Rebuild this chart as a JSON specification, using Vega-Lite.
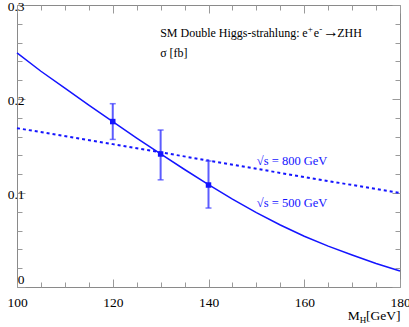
{
  "$schema": "https://vega.github.io/schema/vega-lite/v6.json",
  "width": 383,
  "height": 282,
  "autosize": {"type": "none"},
  "padding": {"left": 17, "top": 5, "right": 9, "bottom": 40},
  "background": "white",
  "config": {
    "font": "Liberation Serif",
    "view": {"stroke": "#8a8a8a", "strokeWidth": 1},
    "axis": {"grid": false, "domain": false, "tickColor": "#9a9a9a", "tickWidth": 1, "labelFont": "Liberation Serif", "labelFontSize": 13.5, "labelColor": "black", "title": null}
  },
  "datasets": {
    "s500": [
      {"m": 100, "sigma": 0.249}, {"m": 105, "sigma": 0.2295}, {"m": 110, "sigma": 0.2115}, {"m": 115, "sigma": 0.1935},
      {"m": 120, "sigma": 0.176}, {"m": 125, "sigma": 0.1585}, {"m": 130, "sigma": 0.1415}, {"m": 135, "sigma": 0.125},
      {"m": 140, "sigma": 0.1088}, {"m": 145, "sigma": 0.0935}, {"m": 150, "sigma": 0.0792}, {"m": 155, "sigma": 0.066},
      {"m": 160, "sigma": 0.054}, {"m": 165, "sigma": 0.0435}, {"m": 170, "sigma": 0.034}, {"m": 175, "sigma": 0.025},
      {"m": 180, "sigma": 0.017}
    ],
    "s800": [
      {"m": 100, "sigma": 0.169}, {"m": 120, "sigma": 0.152}, {"m": 140, "sigma": 0.1345}, {"m": 160, "sigma": 0.117}, {"m": 180, "sigma": 0.1}
    ],
    "pts": [
      {"m": 120, "sigma": 0.176, "lo": 0.157, "hi": 0.195},
      {"m": 130, "sigma": 0.1415, "lo": 0.114, "hi": 0.167},
      {"m": 140, "sigma": 0.1085, "lo": 0.084, "hi": 0.134}
    ],
    "title": [
      {"m": 129.9, "v": 0.2655, "t": "SM Double Higgs-strahlung:"},
      {"m": 159.6, "v": 0.2655, "t": "e"},
      {"m": 162.0, "v": 0.2655, "t": "e"},
      {"m": 166.9, "v": 0.2655, "t": "ZHH"},
      {"m": 129.9, "v": 0.2447, "t": "σ [fb]"}
    ],
    "arrow": [
      {"m": 163.9, "v": 0.2655, "t": "→"}
    ],
    "sup": [
      {"m": 160.75, "v": 0.2713, "t": "+"},
      {"m": 163.15, "v": 0.2713, "t": "-"}
    ],
    "xtitle": [
      {"m": 169.1, "v": -0.0351, "t": "M"},
      {"m": 172.9, "v": -0.0351, "t": "[GeV]"}
    ],
    "xsub": [{"m": 171.6, "v": -0.0383, "t": "H"}],
    "lbl": [
      {"m": 150.1, "v": 0.1298, "t": "√s = 800 GeV"},
      {"m": 150.1, "v": 0.0851, "t": "√s = 500 GeV"}
    ]
  },
  "layer": [
    {
      "data": {"name": "s500"},
      "mark": {"type": "line", "color": "#1414ff", "strokeWidth": 1.5},
      "encoding": {
        "x": {"field": "m", "type": "quantitative", "scale": {"domain": [100, 180], "nice": false},
          "axis": {"orient": "bottom", "values": [100,105,110,115,120,125,130,135,140,145,150,155,160,165,170,175,180],
            "labelExpr": "datum.value % 20 === 0 ? datum.label : ''",
            "tickSize": {"condition": {"test": "datum.value % 20 === 0", "value": -8}, "value": -5},
            "labelPadding": 16, "labelFlush": false, "labelOverlap": false}},
        "y": {"field": "sigma", "type": "quantitative", "scale": {"domain": [0, 0.3], "nice": false, "zero": false},
          "axis": {"orient": "left", "values": [0,0.02,0.04,0.06,0.08,0.1,0.12,0.14,0.16,0.18,0.2,0.22,0.24,0.26,0.28,0.3],
            "labelExpr": "abs(datum.value*10 - round(datum.value*10)) < 0.000001 ? toString(round(datum.value*10)/10) : ''",
            "tickSize": {"condition": {"test": "abs(datum.value*10 - round(datum.value*10)) < 0.000001", "value": -8}, "value": -5},
            "labelOffset": {"condition": {"test": "datum.value === 0", "value": -8}, "value": 1},
            "labelPadding": 1, "labelFlush": false, "labelOverlap": false, "labelBaseline": "middle"}}
      }
    },
    {
      "data": {"name": "s800"},
      "mark": {"type": "line", "color": "#1414ff", "strokeWidth": 2, "strokeDash": [3, 3]},
      "encoding": {
        "x": {"field": "m", "type": "quantitative",
          "axis": {"orient": "top", "values": [100,105,110,115,120,125,130,135,140,145,150,155,160,165,170,175,180],
            "labels": false,
            "tickSize": {"condition": {"test": "datum.value % 20 === 0", "value": -8}, "value": -5}}},
        "y": {"field": "sigma", "type": "quantitative",
          "axis": {"orient": "right", "values": [0,0.02,0.04,0.06,0.08,0.1,0.12,0.14,0.16,0.18,0.2,0.22,0.24,0.26,0.28,0.3],
            "labels": false,
            "tickSize": {"condition": {"test": "abs(datum.value*10 - round(datum.value*10)) < 0.000001", "value": -8}, "value": -5}}}
      }
    },
    {
      "data": {"name": "pts"},
      "mark": {"type": "rule", "color": "#5c5cff", "strokeWidth": 2},
      "encoding": {
        "x": {"field": "m", "type": "quantitative", "axis": null},
        "y": {"field": "lo", "type": "quantitative", "axis": null},
        "y2": {"field": "hi"}
      }
    },
    {
      "data": {"name": "pts"},
      "mark": {"type": "tick", "color": "#3c3cff", "orient": "horizontal", "size": 6, "thickness": 1.5},
      "encoding": {
        "x": {"field": "m", "type": "quantitative", "axis": null},
        "y": {"field": "lo", "type": "quantitative", "axis": null}
      }
    },
    {
      "data": {"name": "pts"},
      "mark": {"type": "tick", "color": "#3c3cff", "orient": "horizontal", "size": 6, "thickness": 1.5},
      "encoding": {
        "x": {"field": "m", "type": "quantitative", "axis": null},
        "y": {"field": "hi", "type": "quantitative", "axis": null}
      }
    },
    {
      "data": {"name": "pts"},
      "mark": {"type": "point", "shape": "square", "filled": true, "color": "#1414ff", "size": 30, "opacity": 1},
      "encoding": {
        "x": {"field": "m", "type": "quantitative", "axis": null},
        "y": {"field": "sigma", "type": "quantitative", "axis": null}
      }
    },
    {
      "data": {"name": "title"},
      "mark": {"type": "text", "align": "left", "baseline": "alphabetic", "fontSize": 12, "color": "black"},
      "encoding": {
        "x": {"field": "m", "type": "quantitative", "axis": null},
        "y": {"field": "v", "type": "quantitative", "axis": null},
        "text": {"field": "t"}
      }
    },
    {
      "data": {"name": "arrow"},
      "mark": {"type": "text", "align": "left", "baseline": "alphabetic", "fontSize": 16, "color": "black"},
      "encoding": {
        "x": {"field": "m", "type": "quantitative", "axis": null},
        "y": {"field": "v", "type": "quantitative", "axis": null},
        "text": {"field": "t"}
      }
    },
    {
      "data": {"name": "sup"},
      "mark": {"type": "text", "align": "left", "baseline": "alphabetic", "fontSize": 9, "color": "black"},
      "encoding": {
        "x": {"field": "m", "type": "quantitative", "axis": null},
        "y": {"field": "v", "type": "quantitative", "axis": null},
        "text": {"field": "t"}
      }
    },
    {
      "data": {"name": "xtitle"},
      "mark": {"type": "text", "align": "left", "baseline": "alphabetic", "fontSize": 13.5, "color": "black"},
      "encoding": {
        "x": {"field": "m", "type": "quantitative", "axis": null},
        "y": {"field": "v", "type": "quantitative", "axis": null},
        "text": {"field": "t"}
      }
    },
    {
      "data": {"name": "xsub"},
      "mark": {"type": "text", "align": "left", "baseline": "alphabetic", "fontSize": 9, "color": "black"},
      "encoding": {
        "x": {"field": "m", "type": "quantitative", "axis": null},
        "y": {"field": "v", "type": "quantitative", "axis": null},
        "text": {"field": "t"}
      }
    },
    {
      "data": {"name": "lbl"},
      "mark": {"type": "text", "align": "left", "baseline": "alphabetic", "fontSize": 12.5, "color": "#1414ff"},
      "encoding": {
        "x": {"field": "m", "type": "quantitative", "axis": null},
        "y": {"field": "v", "type": "quantitative", "axis": null},
        "text": {"field": "t"}
      }
    }
  ],
  "resolve": {"axis": {"x": "independent", "y": "independent"}}
}
